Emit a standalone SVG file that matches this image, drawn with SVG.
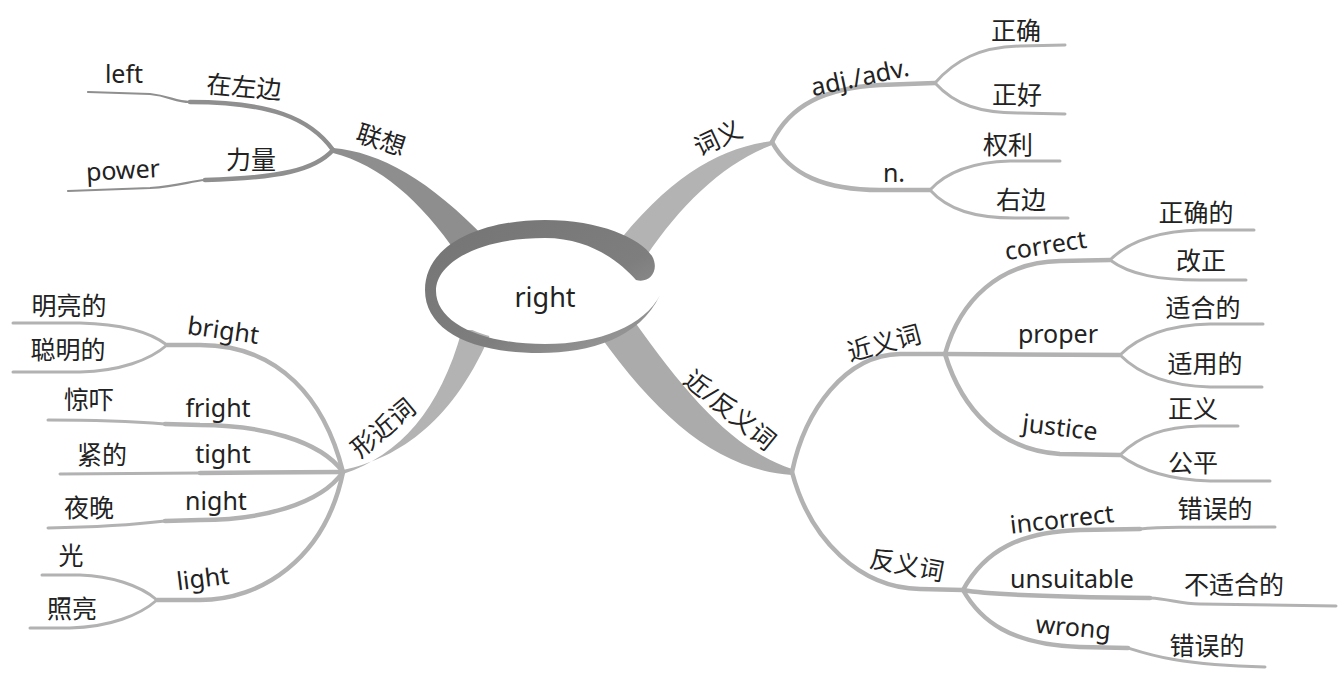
<svg xmlns="http://www.w3.org/2000/svg" width="1339" height="681" viewBox="0 0 1339 681">
<defs>
<style>
text{font-family:"Noto Sans","Noto Sans CJK SC",sans-serif;fill:#222;text-anchor:middle}
.en{font-size:25px}
.zh{font-size:25px}
.l{fill:none;stroke-linecap:round;stroke-linejoin:round}
.dk{stroke:#8f8f8f}
.lt{stroke:#b2b2b2}
.w4{stroke-width:4.5}
.w3{stroke-width:3}
.w2{stroke-width:2.2}
</style>
<linearGradient id="cg" x1="0" y1="0" x2="1" y2="1">
<stop offset="0" stop-color="#747474"/>
<stop offset="0.6" stop-color="#7e7e7e"/>
<stop offset="1" stop-color="#a0a0a0"/>
</linearGradient>
</defs>
<rect width="1339" height="681" fill="#fff"/>
<g id="connectors">
<path d="M333,148 C380,152 430,180 487,240 L458,255 C420,200 380,165 333,153 Z" fill="#8e8e8e"/>
<path d="M772,141 C720,148 670,175 612,250 L645,258 C680,205 725,162 772,145 Z" fill="#b3b3b3"/>
<path d="M792,469 C735,450 690,400 632,318 L600,336 C660,420 720,470 792,475 Z" fill="#ababab"/>
<path d="M343,470 C400,458 455,420 492,330 L462,330 C440,410 400,455 343,474 Z" fill="#b3b3b3"/>
<path class="l dk w4" d="M333,150 C310,118 270,102 190,102"/>
<path class="l dk w2" d="M190,102 C175,102 170,96 150,94 L88,92"/>
<path class="l dk w4" d="M333,150 C315,170 280,178 205,180"/>
<path class="l dk w2" d="M205,180 C190,181 180,186 150,188 L68,191"/>
<path class="l lt w4" d="M772,142 C790,105 825,88 880,85 L935,83"/>
<path class="l lt w3" d="M935,83 C955,60 980,47 1020,46 L1065,45"/>
<path class="l lt w3" d="M935,83 C955,105 980,113 1020,113 L1065,114"/>
<path class="l lt w4" d="M772,142 C790,175 825,190 880,190 L930,190"/>
<path class="l lt w3" d="M930,190 C948,170 975,162 1010,161 L1060,161"/>
<path class="l lt w3" d="M930,190 C948,210 975,218 1015,218 L1068,218"/>
<path class="l lt w4" d="M792,472 C805,410 845,355 900,354 L945,354"/>
<path class="l lt w4" d="M792,472 C810,540 860,588 920,589 L963,590"/>
<path class="l lt w4" d="M945,354 C960,300 1000,262 1060,261 L1110,260"/>
<path class="l lt w3" d="M1110,260 C1130,240 1160,231 1200,230 L1254,230"/>
<path class="l lt w3" d="M1110,260 C1130,275 1160,280 1200,280 L1246,280"/>
<path class="l lt w4" d="M945,354 L1120,355"/>
<path class="l lt w3" d="M1120,355 C1140,335 1170,325 1210,324 L1263,324"/>
<path class="l lt w3" d="M1120,355 C1140,375 1170,386 1210,387 L1262,387"/>
<path class="l lt w4" d="M945,354 C962,410 1000,450 1060,454 L1120,455"/>
<path class="l lt w3" d="M1120,455 C1140,435 1165,427 1200,426 L1238,426"/>
<path class="l lt w3" d="M1120,455 C1140,470 1170,480 1210,481 L1270,481"/>
<path class="l lt w4" d="M963,590 C985,550 1020,532 1080,530 L1140,529"/>
<path class="l lt w3" d="M1140,529 C1160,527 1180,527 1275,527"/>
<path class="l lt w4" d="M963,590 C990,595 1050,597 1150,598"/>
<path class="l lt w3" d="M1150,598 C1170,599 1180,604 1200,604 L1336,606"/>
<path class="l lt w4" d="M963,590 C980,620 1010,645 1080,647 L1128,648"/>
<path class="l lt w3" d="M1128,648 C1150,655 1180,665 1265,667"/>
<path class="l lt w4" d="M343,472 C325,400 280,345 200,345 L167,345"/>
<path class="l lt w3" d="M167,345 C150,332 120,324 80,323 L13,323"/>
<path class="l lt w3" d="M167,345 C150,360 120,371 80,372 L13,372"/>
<path class="l lt w4" d="M343,472 C320,440 260,425 200,425 L165,424"/>
<path class="l lt w3" d="M165,424 C140,422 100,420 48,420"/>
<path class="l lt w4" d="M343,472 L200,473"/>
<path class="l lt w3" d="M200,473 L60,474"/>
<path class="l lt w4" d="M343,472 C320,505 260,520 200,520 L165,521"/>
<path class="l lt w3" d="M165,521 C140,524 100,527 48,528"/>
<path class="l lt w4" d="M343,472 C325,560 260,600 200,600 L157,600"/>
<path class="l lt w3" d="M157,600 C140,585 110,576 80,575 L42,575"/>
<path class="l lt w3" d="M157,600 C140,615 110,627 70,628 L30,628"/>
</g>
<g id="center">
<ellipse cx="548" cy="291" rx="112" ry="53" fill="#fff"/>
<path d="M660,295 C640,338 590,353 540,353 C470,353 425,330 425,290 C425,245 480,220 545,220 C600,220 640,238 652,256 C660,270 650,284 636,280 C620,262 590,238 545,238 C480,238 436,262 436,291 C436,322 480,344 545,344 C600,344 645,325 660,295 Z" fill="url(#cg)"/>
<text class="en" x="545" y="307" style="font-size:27px">right</text>
</g>
<g id="n-lianxiang"><text class="zh" transform="translate(381,140) rotate(18)" y="9">联想</text></g>
<g id="n-zaizuobian"><text class="zh" transform="translate(244,87) rotate(5)" y="9">在左边</text></g>
<g id="n-left"><text class="en" x="124" y="83">left</text></g>
<g id="n-liliang"><text class="zh" x="251" y="169">力量</text></g>
<g id="n-power"><text class="en" transform="translate(123,172) rotate(-3)" y="7">power</text></g>
<g id="n-ciyi"><text class="zh" transform="translate(718,138) rotate(-25)" y="9">词义</text></g>
<g id="n-adj"><text class="en" transform="translate(860,78) rotate(-12)" y="8">adj./adv.</text></g>
<g id="n-zhengque"><text class="zh" x="1016" y="40">正确</text></g>
<g id="n-zhenghao"><text class="zh" x="1017" y="104">正好</text></g>
<g id="n-n"><text class="en" x="894" y="182">n.</text></g>
<g id="n-quanli"><text class="zh" x="1008" y="154">权利</text></g>
<g id="n-youbian"><text class="zh" x="1021" y="209">右边</text></g>
<g id="n-jinfanyici"><text class="zh" transform="translate(730,410) rotate(39)" y="9">近/反义词</text></g>
<g id="n-jinyici"><text class="zh" transform="translate(884,343) rotate(-15)" y="9">近义词</text></g>
<g id="n-correct"><text class="en" transform="translate(1046,248) rotate(-9)" y="6">correct</text></g>
<g id="n-zhengquede"><text class="zh" x="1196" y="222">正确的</text></g>
<g id="n-gaizheng"><text class="zh" x="1201" y="270">改正</text></g>
<g id="n-proper"><text class="en" x="1058" y="343">proper</text></g>
<g id="n-shihede"><text class="zh" x="1203" y="317">适合的</text></g>
<g id="n-shiyongde"><text class="zh" x="1205" y="373">适用的</text></g>
<g id="n-justice"><text class="en" transform="translate(1060,428) rotate(7)" y="8">justice</text></g>
<g id="n-zhengyi"><text class="zh" x="1193" y="418">正义</text></g>
<g id="n-gongping"><text class="zh" x="1193" y="472">公平</text></g>
<g id="n-fanyici"><text class="zh" transform="translate(907,565) rotate(11)" y="9">反义词</text></g>
<g id="n-incorrect"><text class="en" transform="translate(1062,520) rotate(-6.5)" y="8">incorrect</text></g>
<g id="n-cuowude1"><text class="zh" x="1215" y="518">错误的</text></g>
<g id="n-unsuitable"><text class="en" x="1072" y="588">unsuitable</text></g>
<g id="n-bushihede"><text class="zh" x="1234" y="594">不适合的</text></g>
<g id="n-wrong"><text class="en" transform="translate(1073,630) rotate(5)" y="6">wrong</text></g>
<g id="n-cuowude2"><text class="zh" x="1207" y="655">错误的</text></g>
<g id="n-xingjinci"><text class="zh" transform="translate(383,428) rotate(-40)" y="9">形近词</text></g>
<g id="n-bright"><text class="en" transform="translate(223,332) rotate(8)" y="7">bright</text></g>
<g id="n-mingliangde"><text class="zh" x="69" y="315">明亮的</text></g>
<g id="n-congmingde"><text class="zh" x="68" y="359">聪明的</text></g>
<g id="n-fright"><text class="en" x="218" y="417">fright</text></g>
<g id="n-jingxia"><text class="zh" x="89" y="409">惊吓</text></g>
<g id="n-tight"><text class="en" x="223" y="463">tight</text></g>
<g id="n-jinde"><text class="zh" x="102" y="464">紧的</text></g>
<g id="n-night"><text class="en" x="216" y="510">night</text></g>
<g id="n-yewan"><text class="zh" x="89" y="517">夜晚</text></g>
<g id="n-light"><text class="en" transform="translate(203,580) rotate(-7)" y="7">light</text></g>
<g id="n-guang"><text class="zh" x="71" y="565">光</text></g>
<g id="n-zhaoliang"><text class="zh" x="72" y="618">照亮</text></g>
</svg>
